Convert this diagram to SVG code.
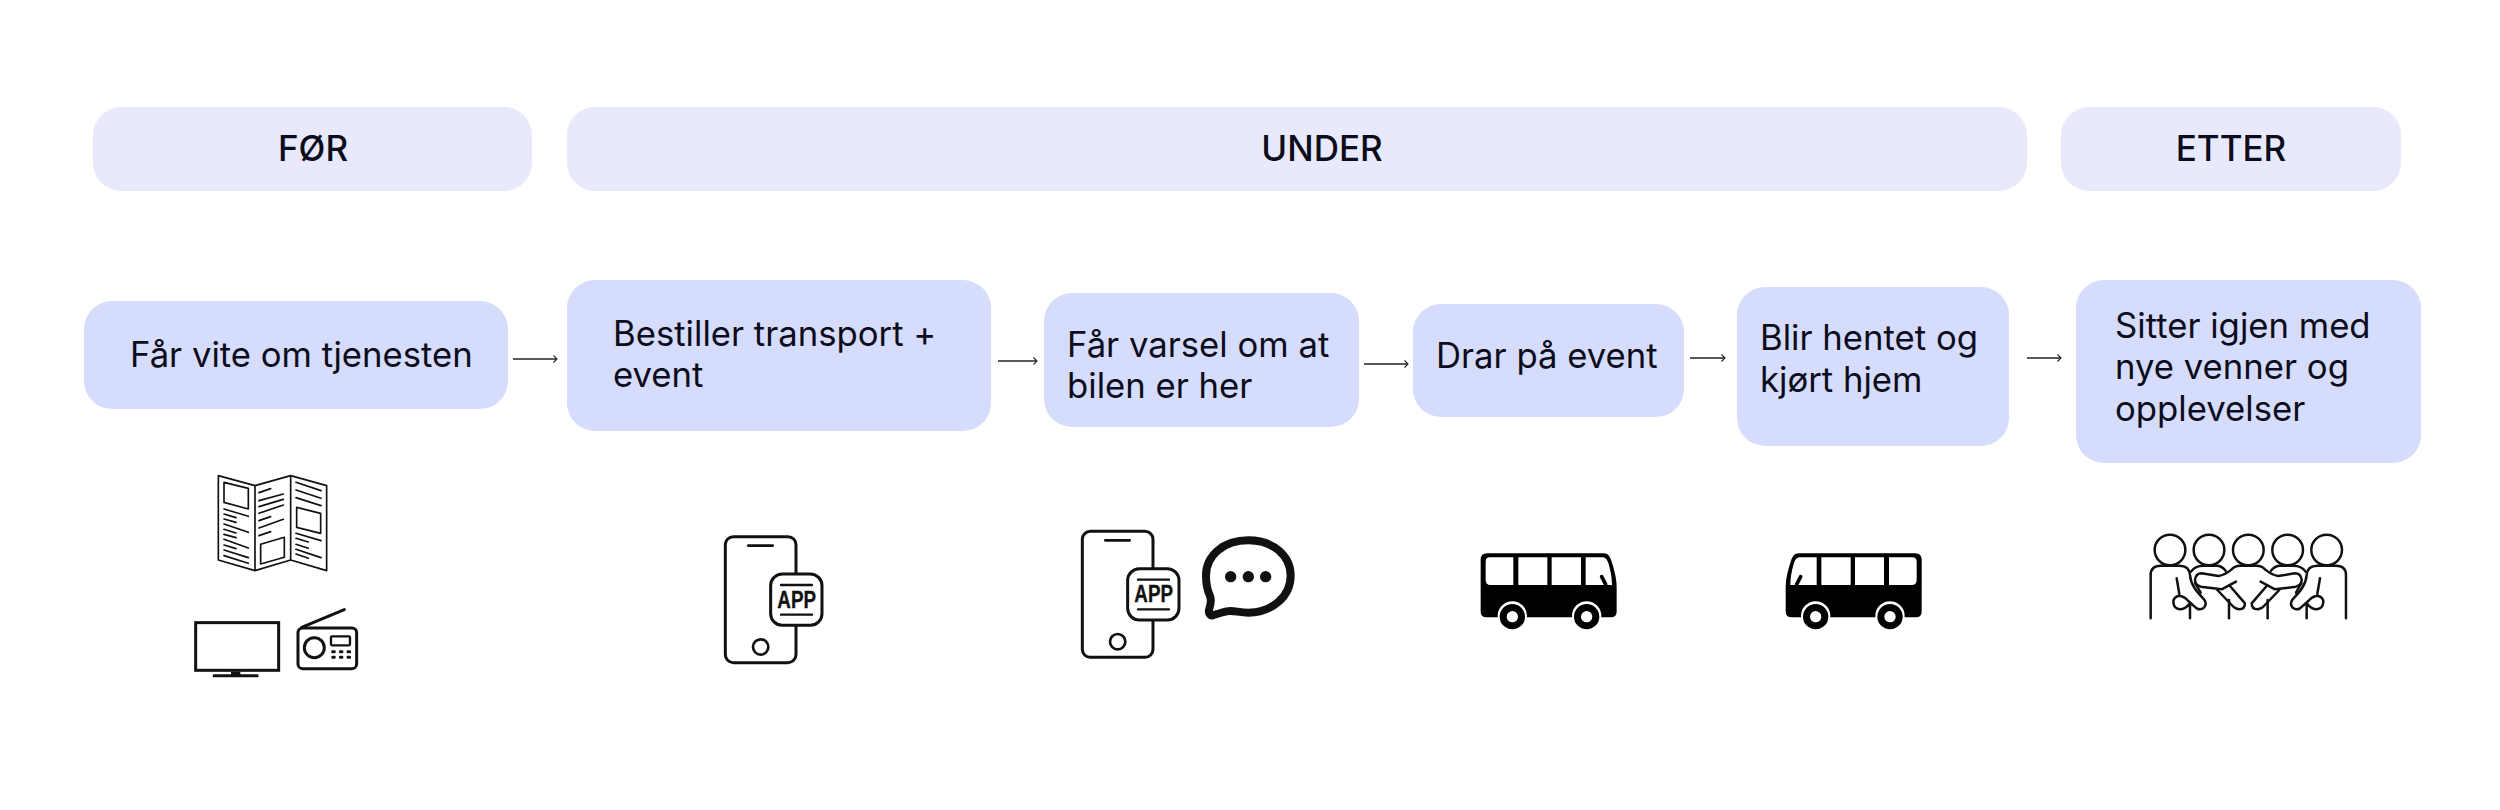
<svg xmlns="http://www.w3.org/2000/svg" xmlns:xlink="http://www.w3.org/1999/xlink" width="2500" height="810" viewBox="0 0 2500 810">
<style>
.hd{fill:#e8eafb}
.nd{fill:#d6dcfb}
text{font-family:Inter,"Liberation Sans",sans-serif;fill:#0c0c1c}
.ht{font-size:35px;font-weight:500;text-anchor:middle}
.nt{font-size:34.7px;font-weight:400}
.ar{fill:none;stroke:#222;stroke-width:1.3;marker-end:url(#ah)}
.ln{fill:none;stroke:#111;stroke-linecap:round;stroke-linejoin:round}
.app{font-family:"Liberation Sans",sans-serif;font-weight:700;font-size:70px;fill:#111}
</style>
<defs>
<marker id="ah" markerUnits="userSpaceOnUse" markerWidth="10" markerHeight="12" refX="7" refY="6" orient="auto"><path d="M3.5,2.5 L7,6 L3.5,9.5" fill="none" stroke="#222" stroke-width="1.1"/></marker>
<g id="phone">
<rect x="76" y="80" width="212" height="378" rx="24" class="ln" stroke-width="9"/>
<path d="M145,107H218" class="ln" stroke-width="8"/>
<circle cx="182" cy="411" r="23" class="ln" stroke-width="8"/>
<rect x="212" y="192" width="154" height="154" rx="35" fill="#fff" stroke="#111" stroke-width="9"/>
<path d="M243,225H336M243,314H336" class="ln" stroke-width="7"/>
<text x="232" y="293" class="app" stroke="#111" stroke-width="1" textLength="116" lengthAdjust="spacingAndGlyphs">APP</text>
</g>
<g id="bus">
<path fill="#000" d="M82,70H430C445,70 450,80 455,95C465,125 470,150 470,170V245Q470,262 452,262H80Q62,262 62,245V88Q62,70 82,70Z"/>
<path fill="#fff" d="M90,82H160V165H92Q77,165 77,150V95Q77,82 90,82ZM175,82H262V165H175ZM275,82H363V165H275ZM377,82H425C438,82 442,90 446,102C452,122 456,145 456,165H377Z"/>
<path d="M425,140L437,163" stroke="#000" stroke-width="11" stroke-linecap="round"/>
<circle cx="157" cy="258" r="44" fill="#fff"/><circle cx="157" cy="260" r="38" fill="#000"/><circle cx="157" cy="260" r="17" fill="#fff"/>
<circle cx="380" cy="258" r="44" fill="#fff"/><circle cx="380" cy="260" r="38" fill="#000"/><circle cx="380" cy="260" r="17" fill="#fff"/>
</g>
<g id="halfgroup" class="ln" stroke-width="7.5">
<circle cx="120" cy="90" r="46"/><circle cx="237" cy="90" r="46"/>
<path d="M62,295V165Q62,137 92,137H148Q178,137 180,165C182,195 200,215 222,238Q232,252 222,263Q212,272 200,265L175,243Q160,226 145,228Q130,232 130,247Q132,266 150,268Q165,268 180,250V295"/>
<path d="M140,175L148,222"/>
<path d="M183,155Q195,137 220,137H260Q275,137 287,152"/>
<path d="M318,185L275,208L212,200Q195,195 195,180Q197,160 215,160L265,168Q285,165 305,148Q315,137 330,137H355"/>
<path d="M196,190L212,218"/>
<path d="M262,210L308,258Q318,268 328,268Q345,268 345,250L300,198"/>
<path d="M297,240V295"/>
</g>
</defs>
<rect width="2500" height="810" fill="#fff"/>

<g id="phase-for"><rect class="hd" x="93" y="107" width="439" height="84" rx="28"/><text class="ht" x="313" y="161">FØR</text></g>
<g id="phase-under"><rect class="hd" x="567" y="107" width="1460" height="84" rx="28"/><text class="ht" x="1322" y="161">UNDER</text></g>
<g id="phase-etter"><rect class="hd" x="2061" y="107" width="340" height="84" rx="28"/><text class="ht" x="2231" y="161">ETTER</text></g>

<g id="step-1"><rect class="nd" x="84" y="301" width="424" height="108" rx="28"/><text class="nt" x="130" y="367">Får vite om tjenesten</text></g>
<g id="step-2"><rect class="nd" x="567" y="280" width="424" height="151" rx="28"/><text class="nt" x="613" y="346">Bestiller transport +</text><text class="nt" x="613" y="387">event</text></g>
<g id="step-3"><rect class="nd" x="1044" y="293" width="315" height="134" rx="28"/><text class="nt" x="1067" y="357">Får varsel om at</text><text class="nt" x="1067" y="398">bilen er her</text></g>
<g id="step-4"><rect class="nd" x="1413" y="304" width="271" height="113" rx="28"/><text class="nt" x="1436" y="368">Drar på event</text></g>
<g id="step-5"><rect class="nd" x="1737" y="287" width="272" height="159" rx="28"/><text class="nt" x="1760" y="350">Blir hentet og</text><text class="nt" x="1760" y="392">kjørt hjem</text></g>
<g id="step-6"><rect class="nd" x="2076" y="280" width="345" height="183" rx="28"/><text class="nt" x="2115" y="338">Sitter igjen med</text><text class="nt" x="2115" y="379">nye venner og</text><text class="nt" x="2115" y="421">opplevelser</text></g>

<g id="connectors">
<path class="ar" d="M513,359H557"/>
<path class="ar" d="M998,361H1037"/>
<path class="ar" d="M1364,364H1408"/>
<path class="ar" d="M1690,358H1725"/>
<path class="ar" d="M2027,358H2061"/>
</g>

<g id="icon-brochure" transform="translate(160,450) scale(.3333)" class="ln" stroke-width="5">
<path d="M175,77L285,107L392,77L500,107V362L392,330L285,362L175,330ZM285,107V362M392,77V330"/>
<path d="M192,97L265,115V177L192,157Z M302,283L373,262V322L302,342Z M410,172L482,190V250L410,232Z"/>
<path d="M192,177L265,199M192,192L228,203M192,207L228,217M192,222L265,247M192,238L228,249M192,253L228,263M192,268L265,294M192,285L228,296M192,300L265,323M192,317L265,340"/>
<path d="M297,128L332,116M297,152L370,132M297,170L370,148M297,190L370,165M297,212L332,200M297,234L370,208M297,257L332,245"/>
<path d="M408,97L483,122M408,120L483,145M408,143L483,167M408,250L483,272M408,265L445,276M408,283L445,295M408,298L483,323M408,312L445,325"/>
</g>
<g id="icon-tv" transform="translate(160,450) scale(.3333)">
<rect x="107" y="518" width="249" height="143" fill="none" stroke="#111" stroke-width="9"/>
<rect x="213" y="665" width="28" height="10" fill="#111"/>
<rect x="158" y="673" width="138" height="9" rx="4" fill="#111"/>
</g>
<g id="icon-radio" transform="translate(160,450) scale(.3333)">
<rect x="414" y="534" width="176" height="122" rx="14" class="ln" stroke-width="9"/>
<path d="M425,532L553,479" class="ln" stroke-width="9"/>
<circle cx="463" cy="593" r="30" class="ln" stroke-width="9"/>
<rect x="513" y="559" width="57" height="27" rx="3" class="ln" stroke-width="7"/>
<g fill="#111"><rect x="514" y="601" width="13" height="9" rx="3"/><rect x="537" y="601" width="13" height="9" rx="3"/><rect x="560" y="601" width="13" height="9" rx="3"/><rect x="514" y="617" width="13" height="9" rx="3"/><rect x="537" y="617" width="13" height="9" rx="3"/><rect x="560" y="617" width="13" height="9" rx="3"/></g>
</g>
<g id="icon-app"><use xlink:href="#phone" href="#phone" transform="translate(700,510) scale(.3333)"/></g>
<g id="icon-app-message">
<use xlink:href="#phone" href="#phone" transform="translate(1057,504.67) scale(.3333)"/>
<g transform="translate(1060,510) scale(.3333)">
<path class="ln" stroke-width="24" d="M565,91C640,91 692,137 692,197C692,260 635,308 565,308C535,308 520,300 500,304C485,307 465,314 458,316C450,318 445,308 447,300C452,285 455,270 450,258C442,240 438,220 438,197C438,137 490,91 565,91Z"/>
<g fill="#111"><circle cx="512" cy="200" r="17"/><circle cx="565" cy="200" r="17"/><circle cx="617" cy="200" r="17"/></g>
</g>
</g>
<g id="icon-bus-1"><use xlink:href="#bus" href="#bus" transform="translate(1460,530) scale(.3333)"/></g>
<g id="icon-bus-2"><use xlink:href="#bus" href="#bus" transform="translate(1942.33,530) scale(-.3333,.3333)"/></g>
<g id="icon-people" transform="translate(2130,520) scale(.3333)">
<use xlink:href="#halfgroup" href="#halfgroup"/>
<use xlink:href="#halfgroup" href="#halfgroup" transform="translate(710,0) scale(-1,1)"/>
<circle cx="355" cy="90" r="46" class="ln" stroke-width="7.5"/>
</g>
</svg>
